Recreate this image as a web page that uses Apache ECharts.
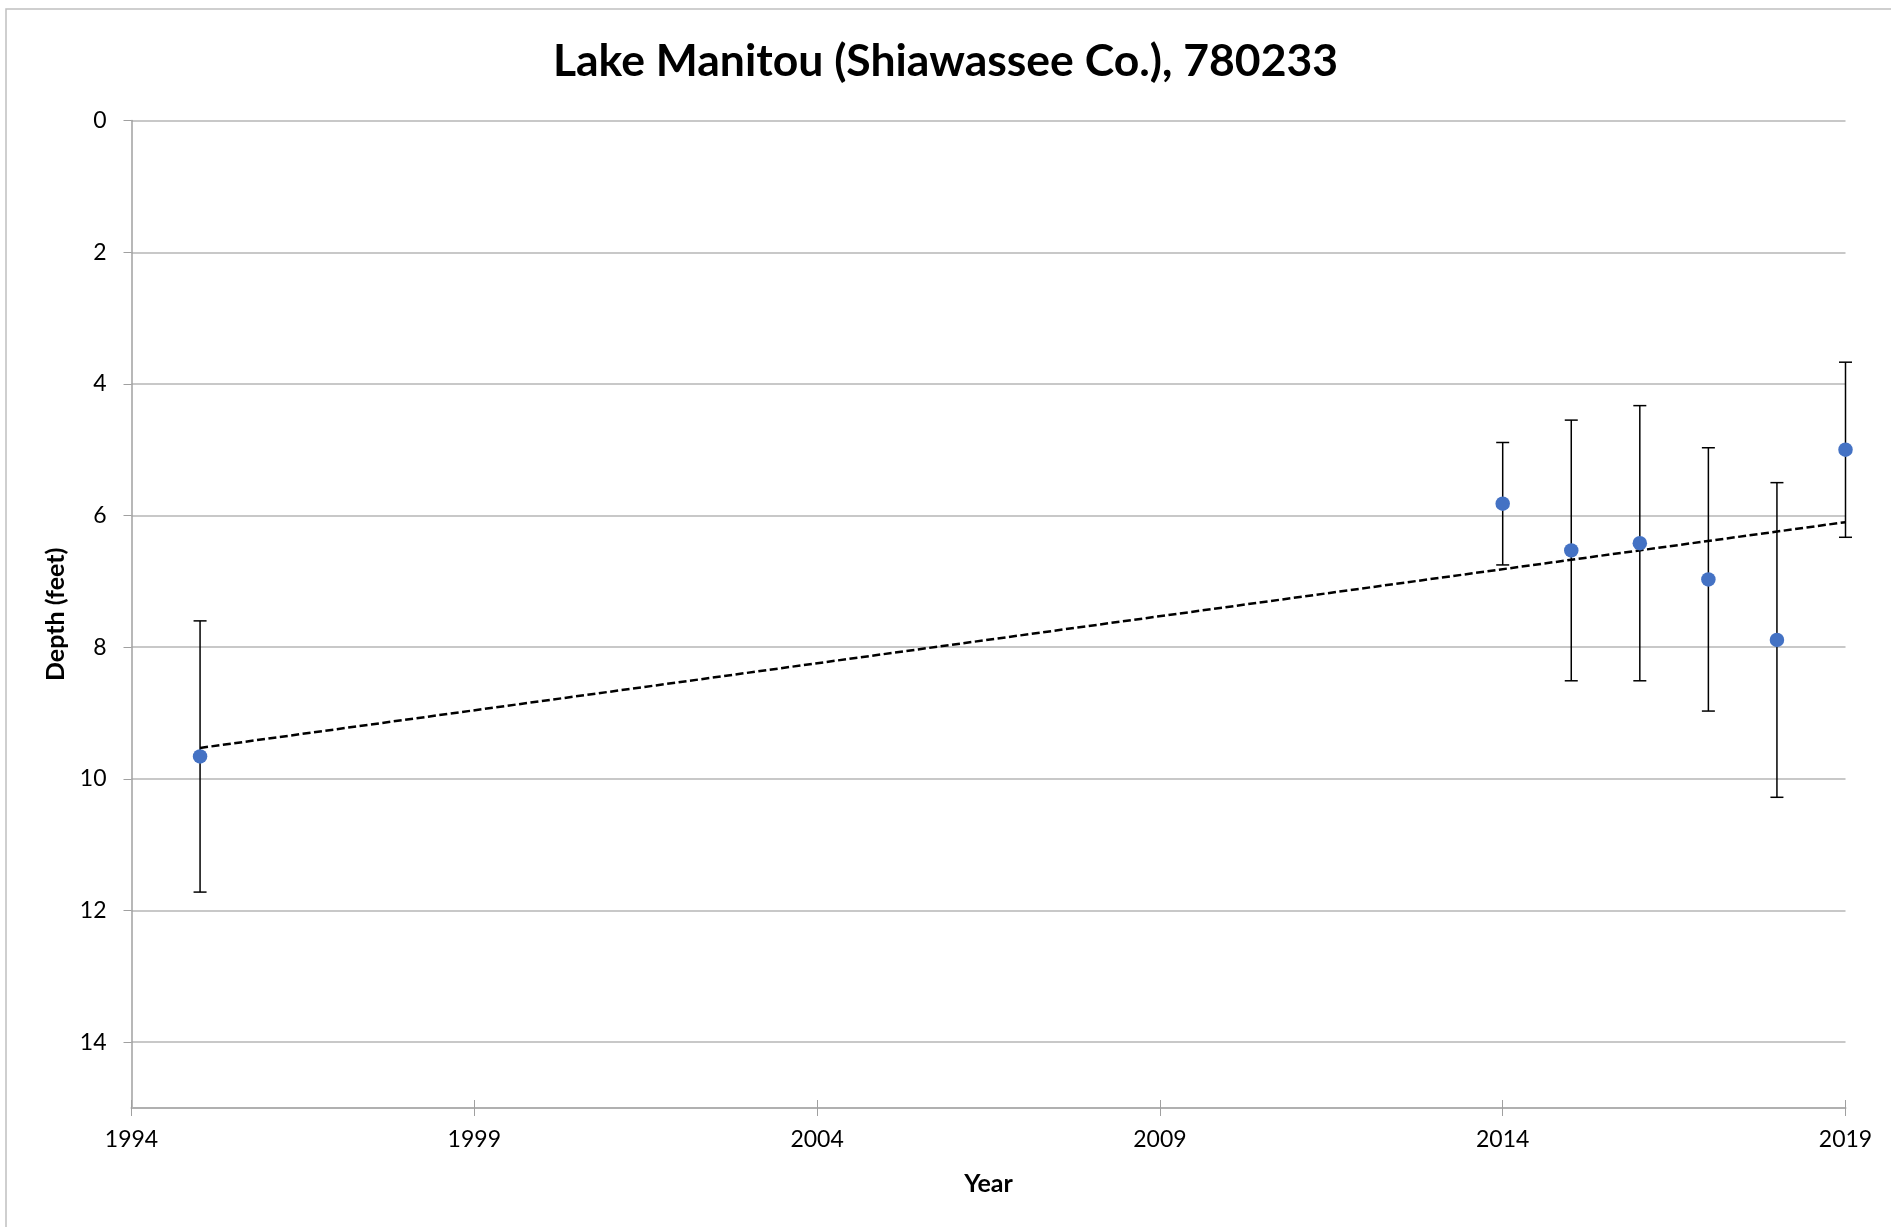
<!DOCTYPE html>
<html>
<head>
<meta charset="utf-8">
<script src="https://cdn.jsdelivr.net/npm/echarts@6/dist/echarts.min.js"></script>
<style>
html,body{margin:0;padding:0;background:#fff;}
#chart{width:1891px;height:1227px;}
</style>
</head>
<body>
<div id="chart"></div>
<script>
// ---- data ----
const years = [1995, 2014, 2015, 2016, 2017, 2018, 2019];
const depths = [9.66, 5.82, 6.53, 6.42, 6.97, 7.89, 5.00];
const errors = [2.06, 0.93, 1.98, 2.09, 2.00, 2.39, 1.33];
const trendYears = [1995, 2019];
const trendDepths = [9.53, 6.10];
const xTickYears = [1994, 1999, 2004, 2009, 2014, 2019];
const yTicks = [0, 2, 4, 6, 8, 10, 12, 14];
const X_BASE = 1994;   // axis offset so ticks start at 1994
const X_SPAN = 25;
const Y_MAX = 15;

const titleText = 'Lake Manitou (Shiawassee Co.), 780233';

const chart = echarts.init(document.getElementById('chart'), null, {renderer: 'canvas'});

const pts = years.map((y, i) => [y - X_BASE, depths[i]]);
const errData = years.map((y, i) => [y - X_BASE, depths[i] - errors[i], depths[i] + errors[i]]);
const trendData = trendYears.map((y, i) => [y - X_BASE, trendDepths[i]]);

const fontFam = 'Lato, "Open Sans", sans-serif';
const gridBox = {left: 131.5, right: 45.5, top: 120.6, bottom: 119, containLabel: false};

const option = {
  backgroundColor: '#ffffff',
  animation: false,
  title: {
    text: titleText,
    left: 'center',
    top: 34,
    textStyle: {fontFamily: fontFam, fontWeight: 'bold', fontSize: 44.5, color: '#000'}
  },
  graphic: [{
    type: 'rect',
    shape: {x: 6, y: 9, width: 1910, height: 1240},
    style: {fill: 'none', stroke: '#c0c0c0', lineWidth: 1.5},
    silent: true
  }],
  grid: [Object.assign({}, gridBox), Object.assign({}, gridBox)],
  xAxis: [{
    type: 'value',
    gridIndex: 0,
    position: 'bottom',
    min: 0, max: X_SPAN, interval: 5,
    name: 'Year',
    nameLocation: 'middle',
    nameGap: 63,
    nameTextStyle: {fontFamily: fontFam, fontWeight: 'bold', fontSize: 25, color: '#000'},
    axisLine: {show: true, onZero: false, lineStyle: {color: '#b0b0b0', width: 2}},
    axisTick: {show: true, length: 8, inside: false, lineStyle: {color: '#a0a0a0', width: 1}},
    axisLabel: {
      margin: 20,
      fontFamily: fontFam, fontSize: 23, color: '#000',
      formatter: v => String(v + X_BASE)
    },
    splitLine: {show: false}
  }, {
    type: 'value',
    gridIndex: 1,
    position: 'bottom',
    min: 0, max: X_SPAN, interval: 5,
    axisLine: {show: false, onZero: false},
    axisTick: {show: true, length: 8, inside: true, lineStyle: {color: '#a0a0a0', width: 1}},
    axisLabel: {show: false},
    splitLine: {show: false}
  }],
  yAxis: [{
    type: 'value',
    gridIndex: 0,
    inverse: true,
    min: 0, max: Y_MAX, interval: 2,
    name: 'Depth (feet)',
    nameLocation: 'middle',
    nameGap: 62,
    nameRotate: 90,
    nameTextStyle: {fontFamily: fontFam, fontWeight: 'bold', fontSize: 25, color: '#000'},
    axisLine: {show: true, onZero: false, lineStyle: {color: '#a0a0a0', width: 1.5}},
    axisTick: {show: true, length: 8, lineStyle: {color: '#a0a0a0', width: 1}},
    axisLabel: {
      margin: 25,
      fontFamily: fontFam, fontSize: 23, color: '#000',
      showMaxLabel: false,
      formatter: v => (yTicks.indexOf(v) >= 0 ? String(v) : '')
    },
    splitLine: {show: true, lineStyle: {color: '#c8c8c8', width: 2}}
  }, {
    type: 'value',
    gridIndex: 1,
    inverse: true,
    min: 0, max: Y_MAX,
    axisLine: {show: false, onZero: false},
    axisTick: {show: false},
    axisLabel: {show: false},
    splitLine: {show: false}
  }],
  series: [{
    type: 'custom',
    name: 'error',
    xAxisIndex: 0,
    yAxisIndex: 0,
    data: errData,
    z: 2,
    renderItem: function (params, api) {
      const x = api.value(0);
      const top = api.coord([x, api.value(1)]);
      const bot = api.coord([x, api.value(2)]);
      const cap = 6.5;
      const style = {stroke: '#000', lineWidth: 1.5};
      return {
        type: 'group',
        children: [
          {type: 'line', shape: {x1: top[0], y1: top[1], x2: bot[0], y2: bot[1]}, style: style},
          {type: 'line', shape: {x1: top[0] - cap, y1: top[1], x2: top[0] + cap, y2: top[1]}, style: style},
          {type: 'line', shape: {x1: bot[0] - cap, y1: bot[1], x2: bot[0] + cap, y2: bot[1]}, style: style}
        ]
      };
    }
  }, {
    type: 'line',
    name: 'trend',
    xAxisIndex: 0,
    yAxisIndex: 0,
    data: trendData,
    symbol: 'none',
    z: 3,
    lineStyle: {color: '#000', width: 2.5, type: [8, 3.5]}
  }, {
    type: 'scatter',
    name: 'depth',
    xAxisIndex: 0,
    yAxisIndex: 0,
    data: pts,
    symbol: 'circle',
    symbolSize: 14.5,
    z: 4,
    itemStyle: {color: '#4472C4', opacity: 1}
  }]
};
chart.setOption(option);
</script>
</body>
</html>
